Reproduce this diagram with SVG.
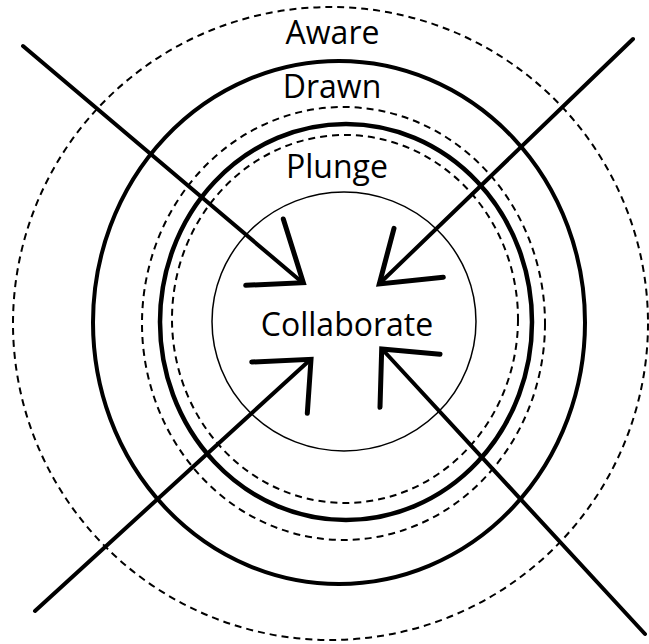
<svg xmlns="http://www.w3.org/2000/svg" width="649" height="644" viewBox="0 0 649 644">
<style>
.dash{fill:none;stroke:#000;stroke-width:2;stroke-dasharray:7 5}
.thick{fill:none;stroke:#000;stroke-width:4}
.thin{fill:none;stroke:#000;stroke-width:1.5}
.lbl{font-family:"Open Sans","Liberation Sans",sans-serif;font-size:32px;fill:#000;text-anchor:middle}
.ln{fill:none;stroke:#000;stroke-width:4;stroke-linecap:round}
.head{fill:none;stroke:#000;stroke-width:5;stroke-linecap:round;stroke-linejoin:miter}
</style>
<rect width="649" height="644" fill="#fff"/>
<g id="aware">
<ellipse class="dash" cx="330.5" cy="323.5" rx="317.5" ry="316.5"/>
<text class="lbl" x="332.5" y="44">Aware</text>
</g>
<g id="drawn">
<ellipse class="thick" cx="339" cy="322.5" rx="246" ry="261.5"/>
<text class="lbl" x="332" y="98">Drawn</text>
</g>
<g id="plunge">
<ellipse class="dash" cx="343.5" cy="323.5" rx="201.5" ry="216.5"/>
<ellipse class="thick" cx="346" cy="322" rx="186" ry="198" style="stroke-width:4.5"/>
<ellipse class="dash" cx="345" cy="319" rx="173" ry="184"/>
<text class="lbl" x="337" y="177.5">Plunge</text>
</g>
<g id="collaborate">
<ellipse class="thin" cx="344" cy="321.5" rx="132" ry="129.5"/>
<text class="lbl" x="347" y="335.5">Collaborate</text>
</g>
<g id="connectors">
<line class="ln" x1="23" y1="46" x2="303" y2="283"/>
<polyline class="head" points="283.3,219 303.3,282.7 245.7,285.3"/>
<line class="ln" x1="633" y1="39" x2="379" y2="284"/>
<polyline class="head" points="394,228.3 379.3,284 443.3,277.3"/>
<line class="ln" x1="35" y1="611" x2="311" y2="359"/>
<polyline class="head" points="251.7,362 311,359.3 307.3,413.3"/>
<line class="ln" x1="645" y1="634" x2="382" y2="349"/>
<polyline class="head" points="440,354.3 381.7,349 380,407.3"/>
</g>
</svg>
